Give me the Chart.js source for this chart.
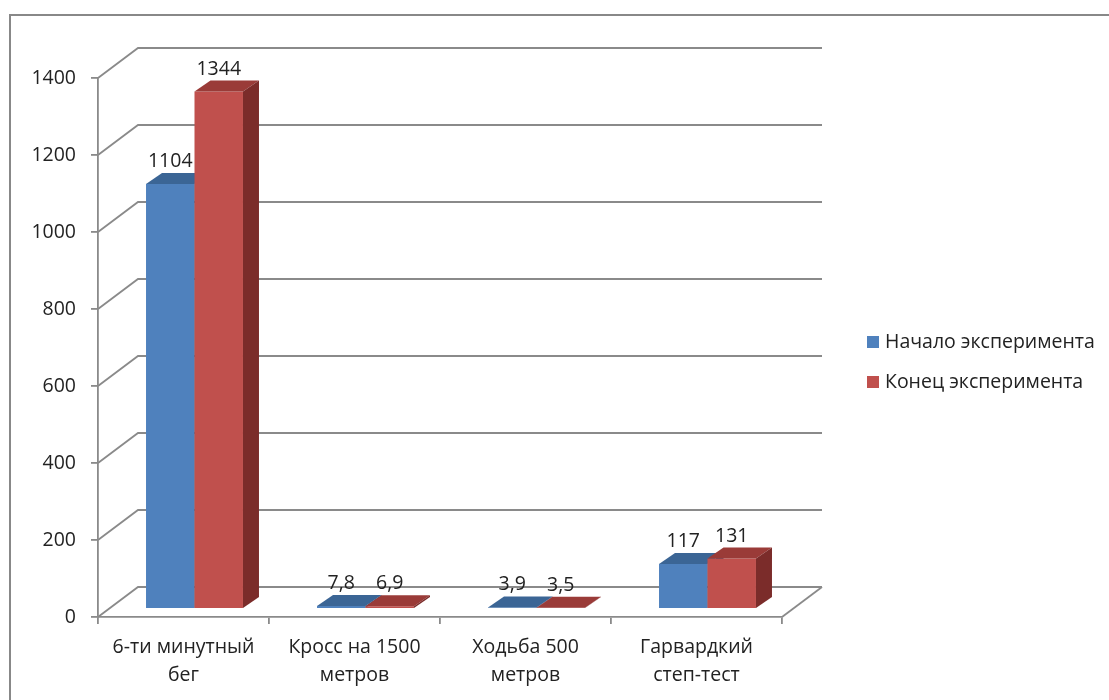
<!DOCTYPE html>
<html>
<head>
<meta charset="utf-8">
<script src="https://cdn.jsdelivr.net/npm/chart.js@4.4.1/dist/chart.umd.min.js"></script>
<style>
  html, body { margin: 0; padding: 0; background: #fff; }
  #wrap { width: 1109px; height: 700px; position: relative; }
</style>
</head>
<body>
<div id="wrap"><canvas id="chart" width="1109" height="700"></canvas></div>
<script>
// Test categories (two-line labels)
const categories = [
  ['6-ти минутный', 'бег'],
  ['Кросс на 1500', 'метров'],
  ['Ходьба 500', 'метров'],
  ['Гарвардкий', 'степ-тест']
];
const seriesNames = ['Начало эксперимента', 'Конец эксперимента'];
const startValues = [1104, 7.8, 3.9, 117];
const endValues = [1344, 6.9, 3.5, 131];
const yTicks = [0, 200, 400, 600, 800, 1000, 1200, 1400];

// Styling
const FONT = { family: "'Open Sans', 'Noto Sans', sans-serif", size: 19.5 };
const TEXT = '#222222';
const GRID = '#8a8a8a';
const GRID_W = 1.8;
const WALL = { dx: 40, dy: -30 };       // back wall offset from the front plane
const BAR_SHIFT = { dx: 11, dy: -8 };   // bars stand a little behind the front edge
const DEPTH = { dx: 16, dy: -11 };      // bar depth (top / side faces)

const fmt = v => String(v).replace('.', ',');

function drawFaces(ctx, ds, meta) {
  meta.data.forEach(bar => {
    const { x, y, base, width } = bar.getProps(['x', 'y', 'base', 'width'], true);
    const l = x - width / 2, r = x + width / 2;
    ctx.fillStyle = ds.topColor;
    ctx.beginPath();
    ctx.moveTo(l, y);
    ctx.lineTo(l + DEPTH.dx, y + DEPTH.dy);
    ctx.lineTo(r + DEPTH.dx, y + DEPTH.dy);
    ctx.lineTo(r, y);
    ctx.closePath();
    ctx.fill();
    ctx.fillStyle = ds.sideColor;
    ctx.beginPath();
    ctx.moveTo(r, y);
    ctx.lineTo(r + DEPTH.dx, y + DEPTH.dy);
    ctx.lineTo(r + DEPTH.dx, base + DEPTH.dy);
    ctx.lineTo(r, base);
    ctx.closePath();
    ctx.fill();
  });
}

const depthPlugin = {
  id: 'depth3d',
  beforeDraw(chart) {
    const ctx = chart.ctx;
    ctx.save();
    ctx.fillStyle = '#ffffff';
    ctx.fillRect(0, 0, chart.width, chart.height);
    // outer frame (top and left edges)
    ctx.strokeStyle = '#888888';
    ctx.lineWidth = 2;
    ctx.beginPath();
    ctx.moveTo(10, chart.height);
    ctx.lineTo(10, 15);
    ctx.lineTo(chart.width, 15);
    ctx.stroke();
    ctx.restore();
  },
  beforeDatasetsDraw(chart) {
    const { ctx, chartArea: a, scales: { y } } = chart;
    ctx.save();
    ctx.strokeStyle = GRID;
    ctx.lineWidth = GRID_W;
    // back wall gridlines with the diagonal side-wall connectors
    y.ticks.forEach(t => {
      const py = y.getPixelForValue(t.value);
      ctx.beginPath();
      ctx.moveTo(a.left, py);
      ctx.lineTo(a.left + WALL.dx, py + WALL.dy);
      ctx.lineTo(a.right + WALL.dx, py + WALL.dy);
      ctx.stroke();
    });
    // right edge of the floor
    ctx.beginPath();
    ctx.moveTo(a.right, a.bottom);
    ctx.lineTo(a.right + WALL.dx, a.bottom + WALL.dy);
    ctx.stroke();
    ctx.restore();
  },
  // datasets are painted below in series order so each bar covers its left neighbour's side face
  beforeDatasetDraw() {
    return false;
  },
  afterDatasetsDraw(chart) {
    const ctx = chart.ctx;
    ctx.save();
    ctx.translate(BAR_SHIFT.dx, BAR_SHIFT.dy);
    chart.data.datasets.forEach((ds, i) => {
      const meta = chart.getDatasetMeta(i);
      meta.controller.draw();
      drawFaces(ctx, ds, meta);
    });

    // value labels above each bar
    ctx.font = `${FONT.size}px ${FONT.family}`;
    ctx.fillStyle = TEXT;
    ctx.textAlign = 'center';
    ctx.textBaseline = 'alphabetic';
    chart.data.datasets.forEach((ds, i) => {
      chart.getDatasetMeta(i).data.forEach((bar, j) => {
        const { x, y } = bar.getProps(['x', 'y'], true);
        ctx.fillText(fmt(ds.data[j]), x, y - 17);
      });
    });
    ctx.restore();

    // legend
    ctx.save();
    ctx.font = `${FONT.size}px ${FONT.family}`;
    ctx.textBaseline = 'middle';
    ctx.textAlign = 'left';
    const lx = 867, ly = [342, 382];
    chart.data.datasets.forEach((ds, i) => {
      ctx.fillStyle = ds.backgroundColor;
      ctx.fillRect(lx, ly[i] - 6, 12, 12);
      ctx.fillStyle = TEXT;
      ctx.fillText(ds.label, lx + 18, ly[i]);
    });
    ctx.restore();
  }
};

new Chart(document.getElementById('chart'), {
  type: 'bar',
  data: {
    labels: categories,
    datasets: [
      {
        label: seriesNames[0],
        data: startValues,
        backgroundColor: '#4f81bd',
        topColor: '#3b6595',
        sideColor: '#2f5180'
      },
      {
        label: seriesNames[1],
        data: endValues,
        backgroundColor: '#c0504d',
        topColor: '#9a3b38',
        sideColor: '#7b2c2a'
      }
    ]
  },
  options: {
    responsive: false,
    animation: false,
    devicePixelRatio: 1,
    layout: { padding: { top: 78, right: 327, left: 0, bottom: 0 } },
    datasets: {
      bar: {
        categoryPercentage: 0.567,
        barPercentage: 1,
        borderWidth: 0,
        clip: false
      }
    },
    plugins: {
      legend: { display: false },
      tooltip: { enabled: false }
    },
    scales: {
      x: {
        grid: { drawOnChartArea: false, color: GRID, lineWidth: GRID_W, tickLength: 7, offset: true },
        border: { color: GRID, width: GRID_W },
        ticks: { font: { ...FONT, lineHeight: 1.4 }, color: TEXT, padding: 10, maxRotation: 0, autoSkip: false },
        afterFit(s) { s.height = 83; }
      },
      y: {
        min: 0,
        max: 1400,
        afterBuildTicks(s) { s.ticks = yTicks.map(v => ({ value: v })); },
        grid: { drawOnChartArea: false, color: GRID, lineWidth: GRID_W, tickLength: 7 },
        border: { color: GRID, width: GRID_W },
        ticks: { font: FONT, color: TEXT, padding: 15, callback: v => String(v) },
        afterFit(s) { s.width = 98; }
      }
    }
  },
  plugins: [depthPlugin]
});
</script>
</body>
</html>
